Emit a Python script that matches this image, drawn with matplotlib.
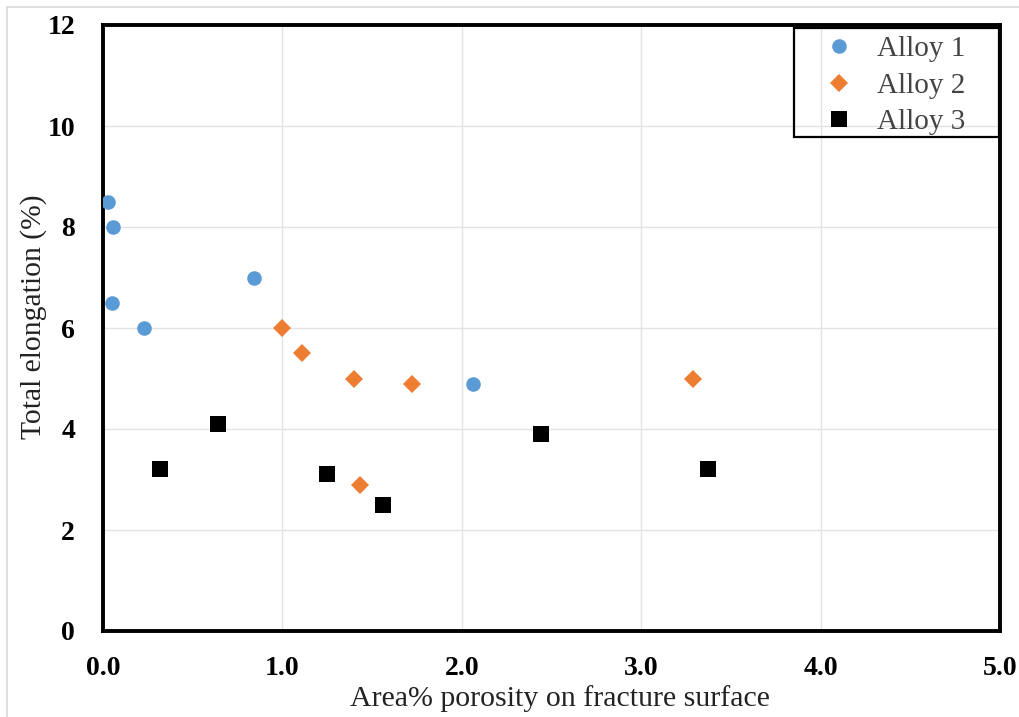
import matplotlib
matplotlib.use("Agg")
import matplotlib.pyplot as plt
from matplotlib.patches import Rectangle

alloy1_x = [0.03, 0.055, 0.05, 0.23, 0.84, 2.06]
alloy1_y = [8.5, 8.0, 6.5, 6.0, 7.0, 4.9]
alloy2_x = [1.0, 1.11, 1.40, 1.72, 1.43, 3.29]
alloy2_y = [6.0, 5.5, 5.0, 4.9, 2.9, 5.0]
alloy3_x = [0.32, 0.64, 1.25, 1.56, 2.44, 3.37]
alloy3_y = [3.2, 4.1, 3.1, 2.5, 3.9, 3.2]
x_ticks = [0, 1, 2, 3, 4, 5]
x_tick_labels = ["0.0", "1.0", "2.0", "3.0", "4.0", "5.0"]
y_ticks = [0, 2, 4, 6, 8, 10, 12]

plt.rcParams['font.family'] = ['Liberation Serif', 'DejaVu Serif']

fig = plt.figure(figsize=(10.19, 7.17), dpi=100)
fig.patches.append(Rectangle((7/1019, -0.01), 1.2, (710)/717 + 0.01, transform=fig.transFigure,
                             fill=False, edgecolor='#d9d9d9', linewidth=1.2))
ax = fig.add_axes([103/1019, 86/717, 897/1019, 606/717])

ax.plot(alloy1_x, alloy1_y, linestyle='none', marker='o', ms=10.5, color='#5B9BD5',
        markeredgewidth=0, label='Alloy 1', zorder=3)
ax.plot(alloy2_x, alloy2_y, linestyle='none', marker='D', ms=9.5, color='#ED7D31',
        markeredgewidth=0, label='Alloy 2', zorder=3)
ax.plot(alloy3_x, alloy3_y, linestyle='none', marker='s', ms=11, color='black',
        markeredgewidth=0, label='Alloy 3', zorder=3)

ax.set_xlim(0, 5)
ax.set_ylim(0, 12)
ax.set_xticks(x_ticks)
ax.set_xticklabels(x_tick_labels)
ax.set_yticks(y_ticks)
ax.grid(True, color='#e3e3e3', linewidth=1.0)
ax.set_axisbelow(True)
ax.tick_params(length=0, labelsize=20)
ax.tick_params(axis='y', pad=20)
ax.tick_params(axis='x', pad=18)
for lab in ax.get_xticklabels() + ax.get_yticklabels():
    lab.set_fontweight('bold')
for s in ax.spines.values():
    s.set_linewidth(2.8)
    s.set_color('black')

ax.set_xlabel('Area% porosity on fracture surface', fontsize=21.5, labelpad=3, color='#222222')
ax.xaxis.label.set_x(0.509)
ax.set_ylabel('Total elongation (%)', fontsize=21.3, labelpad=0, color='#222222')
ax.yaxis.label.set_y(0.519)

leg = ax.legend(loc='upper left', bbox_to_anchor=((824.5 - 103) / 897, (631 - 36) / 606),
                fontsize=21, frameon=False, borderaxespad=0, borderpad=0,
                handletextpad=0.8, labelspacing=0.34, handlelength=1.0)
for t in leg.get_texts():
    t.set_color('#444444')
ax.add_patch(Rectangle(((794 - 103) / 897, (631 - 137) / 606), (999 - 794) / 897, (137 - 28) / 606,
                       transform=ax.transAxes, fill=False, edgecolor='black', linewidth=1.6,
                       zorder=5, clip_on=False))

fig.savefig('out.png', dpi=100)
